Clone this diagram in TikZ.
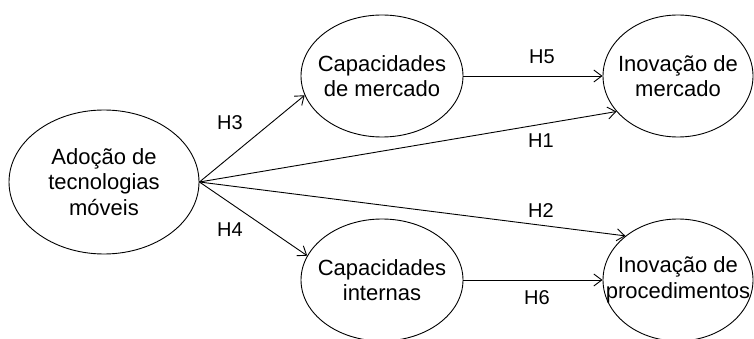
\documentclass[tikz,border=0pt]{standalone}
\usepackage{fontspec}
\setmainfont{Liberation Sans}
\usetikzlibrary{shapes.geometric,arrows.meta}

\tikzset{
  construct/.style={draw=black, line width=0.9pt, ellipse, inner sep=0pt},
  conlabel/.style={align=center, inner sep=0pt, font=\fontsize{22}{25.5}\selectfont},
  hyp/.style={inner sep=0pt, font=\fontsize{20}{22}\selectfont},
  path/.style={draw=black, line width=0.9pt, -{Straight Barb[length=8pt,width=12pt,line width=0.9pt]}}
}

\begin{document}
\begin{tikzpicture}[x=1pt, y=-1pt]
  \useasboundingbox (0,0) rectangle (754,339);
  \clip (0,0) rectangle (754,339);

  % constructs
  \node[construct, minimum width=190pt, minimum height=144pt] (A)  at (104,182) {};
  \node[construct, minimum width=162pt, minimum height=122pt] (CM) at (382,76) {};
  \node[construct, minimum width=162pt, minimum height=122pt] (CI) at (382,280) {};
  \node[construct, minimum width=150pt, minimum height=122pt] (IM) at (678,76) {};
  \node[construct, minimum width=150pt, minimum height=122pt] (IP) at (678,280) {};

  % construct names
  \node[conlabel] (At)  at (104,182) {Adoção de\\tecnologias\\móveis};
  \node[conlabel] (CMt) at (382,76)  {Capacidades\\de mercado};
  \node[conlabel] (CIt) at (382,280) {Capacidades\\internas};
  \node[conlabel] (IMt) at (678,76)  {Inovação de\\mercado};
  \node[conlabel] (IPt) at (678,280) {Inovação de\\procedimentos};

  % hypothesised paths
  \draw[path] (A.east) -- (CM.194);
  \draw[path] (A.east) -- (CI.162);
  \draw[path] (A.east) -- (IM.210);
  \draw[path] (A.east) -- (IP.140);
  \draw[path] (CM.east) -- (IM.west);
  \draw[path] (CI.east) -- (IP.west);

  % path labels
  \node[hyp] (h3) at (230,123) {H3};
  \node[hyp] (h4) at (230,230) {H4};
  \node[hyp] (h5) at (542,57)  {H5};
  \node[hyp] (h1) at (541,141) {H1};
  \node[hyp] (h2) at (541,211) {H2};
  \node[hyp] (h6) at (537,298) {H6};
\end{tikzpicture}
\end{document}
